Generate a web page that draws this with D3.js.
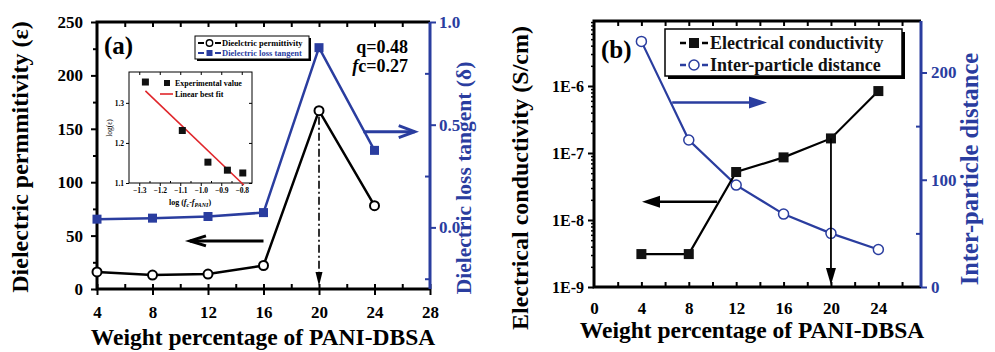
<!DOCTYPE html>
<html>
<head>
<meta charset="utf-8">
<script src="https://cdn.jsdelivr.net/npm/d3@7"></script>
<style>
  body { margin: 0; background: #fff; }
  svg text { font-family: "Liberation Serif", "Times New Roman", serif; font-weight: bold; }
</style>
</head>
<body>
<svg id="chart" width="995" height="352"></svg>
<script>
// ---- panel (a) data ----
const wtA = [4, 8, 12, 16, 20, 24];
const permittivity = [16, 13, 14, 22, 167, 78];
const lossTangent = [0.04, 0.045, 0.053, 0.072, 0.875, 0.375];
const xTicksA = [4, 8, 12, 16, 20, 24, 28];
const yTicksA = [0, 50, 100, 150, 200, 250];
const yTicksA2 = [0.0, 0.5, 1.0];

// inset: log(eps) vs log(fc - fPANI)
const insetX = [-1.27, -1.09, -0.965, -0.87, -0.795];
const insetY = [1.352, 1.231, 1.152, 1.132, 1.125];
const fitX = [-1.27, -0.79];
const fitY = [1.33, 1.095];
const insetTicksX = [-1.3, -1.2, -1.1, -1.0, -0.9, -0.8];
const insetTicksY = [1.1, 1.2, 1.3];

// ---- panel (b) data ----
const wtB = [4, 8, 12, 16, 20, 24];
const conductivity = [3.1e-9, 3.1e-9, 5.2e-8, 8.6e-8, 1.65e-7, 8.4e-7];
const distance = [229, 137, 95, 68, 50, 35];
const xTicksB = [0, 4, 8, 12, 16, 20, 24];
const yTicksB = [1e-9, 1e-8, 1e-7, 1e-6];
const yTicksB2 = [0, 100, 200];

const blue = "#2a3d9f";
const red = "#e0262b";
const svg = d3.select("#chart");

// draw a line with an arrow head at (x2,y2); open = chevron, else filled triangle
function arrow(g, x1, y1, x2, y2, color, width, len, half, open) {
  const ang = Math.atan2(y2 - y1, x2 - x1);
  const bx = x2 - len * Math.cos(ang), by = y2 - len * Math.sin(ang);
  const px = -Math.sin(ang) * half, py = Math.cos(ang) * half;
  g.append("line")
    .attr("x1", x1).attr("y1", y1)
    .attr("x2", open ? x2 : bx).attr("y2", open ? y2 : by)
    .attr("stroke", color).attr("stroke-width", width);
  if (open) {
    g.append("path")
      .attr("d", `M${bx + px},${by + py}L${x2},${y2}L${bx - px},${by - py}`)
      .attr("fill", "none").attr("stroke", color).attr("stroke-width", width);
  } else {
    g.append("path")
      .attr("d", `M${bx + px},${by + py}L${x2},${y2}L${bx - px},${by - py}Z`)
      .attr("fill", color);
  }
}

function styleAxis(g, color, size, width) {
  g.select(".domain").remove();
  g.selectAll("line").attr("stroke", color).attr("stroke-width", width);
  g.selectAll("text").attr("fill", color).style("font-size", size + "px");
}

// ================= panel (a) =================
const xA = d3.scaleLinear().domain([4, 28]).range([97, 430]);
const yA = d3.scaleLinear().domain([0, 250]).range([289, 22]);
const yA2 = d3.scaleLinear().domain([-0.3, 1.0]).range([289, 22]);

const gA = svg.append("g");

// axes
gA.append("g").attr("transform", "translate(0,289)")
  .call(d3.axisBottom(xA).tickValues(xTicksA).tickSize(6).tickPadding(11).tickFormat(d3.format("d")))
  .call(g => styleAxis(g, "#000", 17, 2));
gA.append("g").attr("transform", "translate(0,289)")
  .call(d3.axisBottom(xA).tickValues(d3.range(4, 29, 2)).tickSize(-5).tickFormat(""))
  .call(g => styleAxis(g, "#000", 17, 2));
gA.append("g").attr("transform", "translate(0,22)")
  .call(d3.axisTop(xA).tickValues(d3.range(6, 28, 2)).tickSize(-5).tickFormat(""))
  .call(g => styleAxis(g, "#000", 17, 2));
gA.append("g").attr("transform", "translate(97,0)")
  .call(d3.axisLeft(yA).tickValues(yTicksA).tickSize(6).tickPadding(8))
  .call(g => styleAxis(g, "#000", 17, 2));
gA.append("g").attr("transform", "translate(97,0)")
  .call(d3.axisLeft(yA).tickValues(d3.range(25, 250, 50)).tickSize(4).tickFormat(""))
  .call(g => styleAxis(g, "#000", 17, 2));
gA.append("g").attr("transform", "translate(430,0)")
  .call(d3.axisRight(yA2).tickValues(yTicksA2).tickSize(6).tickPadding(3).tickFormat(d3.format(".1f")))
  .call(g => styleAxis(g, blue, 17, 2));
gA.append("g").attr("transform", "translate(430,0)")
  .call(d3.axisRight(yA2).tickValues([-0.25, 0.25, 0.75]).tickSize(-5).tickFormat(""))
  .call(g => styleAxis(g, blue, 17, 2));

// frame
gA.append("path").attr("d", `M${xA(28)},${yA(250)}H${xA(4)}V${yA(0)}H${xA(28)}`)
  .attr("fill", "none").attr("stroke", "#000").attr("stroke-width", 3);
gA.append("line").attr("x1", xA(28)).attr("x2", xA(28)).attr("y1", yA(250)).attr("y2", yA(0))
  .attr("stroke", blue).attr("stroke-width", 3);

// series lines
gA.append("path").datum(wtA.map((w, i) => [w, lossTangent[i]]))
  .attr("d", d3.line().x(d => xA(d[0])).y(d => yA2(d[1])))
  .attr("fill", "none").attr("stroke", blue).attr("stroke-width", 2.5);
gA.append("path").datum(wtA.map((w, i) => [w, permittivity[i]]))
  .attr("d", d3.line().x(d => xA(d[0])).y(d => yA(d[1])))
  .attr("fill", "none").attr("stroke", "#000").attr("stroke-width", 2.5);

// dash-dot arrow at 20 wt%
gA.append("line")
  .attr("x1", xA(20)).attr("x2", xA(20)).attr("y1", yA(permittivity[4]) + 6).attr("y2", yA(0) - 14)
  .attr("stroke", "#000").attr("stroke-width", 1.6).attr("stroke-dasharray", "8,3,2,3");
arrow(gA, xA(20), yA(0) - 16, xA(20), yA(0) - 3, "#000", 1.6, 14, 3.5, false);

// markers
gA.selectAll(".sqA").data(wtA).join("rect")
  .attr("x", d => xA(d) - 4.5).attr("y", (d, i) => yA2(lossTangent[i]) - 4.5)
  .attr("width", 9).attr("height", 9).attr("fill", blue);
gA.selectAll(".ciA").data(wtA).join("circle")
  .attr("cx", d => xA(d)).attr("cy", (d, i) => yA(permittivity[i])).attr("r", 4.5)
  .attr("fill", "#fff").attr("stroke", "#000").attr("stroke-width", 2);

// direction arrows
arrow(gA, xA(16), yA(45), xA(10.7), yA(45), "#000", 3, 16, 5, true);
arrow(gA, xA(23.2), yA2(0.466), xA(26.9), yA2(0.466), blue, 3, 16, 6, true);

// labels
gA.append("text").attr("x", 104).attr("y", 54).style("font-size", "25px").text("(a)");
gA.append("text").attr("x", 408).attr("y", 53).attr("text-anchor", "end").style("font-size", "18px").text("q=0.48");
gA.append("text").attr("x", 408).attr("y", 72).attr("text-anchor", "end").style("font-size", "18px")
  .call(t => { t.append("tspan").style("font-style", "italic").text("f"); t.append("tspan").text("c=0.27"); });

// legend (a)
gA.append("rect").attr("x", 197).attr("y", 38).attr("width", 114).attr("height", 23).attr("fill", "#000");
gA.append("rect").attr("x", 195).attr("y", 36).attr("width", 114).attr("height", 23)
  .attr("fill", "#fff").attr("stroke", "#000").attr("stroke-width", 1);
[[43, "#000", "Dieelctric permittivity", "c"], [53, blue, "Dielectric loss tangent", "s"]].forEach(([y, c, label, m]) => {
  gA.append("path").attr("d", `M198,${y}H204M215,${y}H221`).attr("stroke", c).attr("stroke-width", 2);
  if (m === "c") gA.append("circle").attr("cx", 209.5).attr("cy", y).attr("r", 3.2)
    .attr("fill", "#fff").attr("stroke", c).attr("stroke-width", 1.4);
  else gA.append("rect").attr("x", 206.5).attr("y", y - 3).attr("width", 6).attr("height", 6).attr("fill", c);
  gA.append("text").attr("x", 222).attr("y", y + 3).attr("fill", c).style("font-size", "8.5px").text(label);
});

// inset
const xI = d3.scaleLinear().domain([-1.35, -0.75]).range([129, 252]);
const yI = d3.scaleLinear().domain([1.1, 1.377]).range([183, 72]);
const gI = gA.append("g");
gI.append("rect").attr("x", 129).attr("y", 72).attr("width", 123).attr("height", 111)
  .attr("fill", "#fff").attr("stroke", "#000").attr("stroke-width", 1);
gI.append("g").attr("transform", "translate(0,183)")
  .call(d3.axisBottom(xI).tickValues(insetTicksX).tickSize(3).tickPadding(2).tickFormat(d3.format(".1f")))
  .call(g => styleAxis(g, "#000", 7.5, 1));
gI.append("g").attr("transform", "translate(0,183)")
  .call(d3.axisBottom(xI).tickValues([-1.25, -1.15, -1.05, -0.95, -0.85]).tickSize(-2).tickFormat(""))
  .call(g => styleAxis(g, "#000", 7.5, 1));
gI.append("g").attr("transform", "translate(0,72)")
  .call(d3.axisTop(xI).tickValues(insetTicksX).tickSize(-3).tickFormat(""))
  .call(g => styleAxis(g, "#000", 7.5, 1));
gI.append("g").attr("transform", "translate(129,0)")
  .call(d3.axisLeft(yI).tickValues(insetTicksY).tickSize(3).tickPadding(2).tickFormat(d3.format(".1f")))
  .call(g => styleAxis(g, "#000", 7.5, 1));
gI.append("g").attr("transform", "translate(252,0)")
  .call(d3.axisRight(yI).tickValues(insetTicksY).tickSize(-3).tickFormat(""))
  .call(g => styleAxis(g, "#000", 7.5, 1));
gI.append("path").datum(fitX.map((v, i) => [v, fitY[i]]))
  .attr("d", d3.line().x(d => xI(d[0])).y(d => yI(d[1])))
  .attr("stroke", red).attr("stroke-width", 1.6);
gI.selectAll(".sqI").data(insetX).join("rect")
  .attr("x", d => xI(d) - 3.5).attr("y", (d, i) => yI(insetY[i]) - 3.5)
  .attr("width", 7).attr("height", 7).attr("fill", "#111");
gI.append("rect").attr("x", 164).attr("y", 80).attr("width", 6).attr("height", 6).attr("fill", "#111");
gI.append("text").attr("x", 175).attr("y", 86).style("font-size", "8px").text("Experimental value");
gI.append("line").attr("x1", 160).attr("x2", 173).attr("y1", 94).attr("y2", 94).attr("stroke", red).attr("stroke-width", 1.6);
gI.append("text").attr("x", 175).attr("y", 97).style("font-size", "8px").text("Linear best fit");
gI.append("text").attr("transform", "translate(112,128) rotate(-90)").attr("text-anchor", "middle")
  .style("font-size", "7.5px").style("font-weight", "normal").text("log(ε)");
gI.append("text").attr("x", 190).attr("y", 205).attr("text-anchor", "middle").style("font-size", "8px")
  .call(t => {
    t.append("tspan").text("log (");
    t.append("tspan").style("font-style", "italic").text("f");
    t.append("tspan").attr("dy", 2).style("font-size", "6px").style("font-style", "italic").text("c");
    t.append("tspan").attr("dy", -2).text("-");
    t.append("tspan").style("font-style", "italic").text("f");
    t.append("tspan").attr("dy", 2).style("font-size", "6px").style("font-style", "italic").text("PANI");
    t.append("tspan").attr("dy", -2).text(")");
  });

// axis titles (a)
gA.append("text").attr("transform", "translate(28,157) rotate(-90)").attr("text-anchor", "middle")
  .style("font-size", "24px").text("Dielectric permmitivity (ε)");
gA.append("text").attr("transform", "translate(471,178) rotate(-90)").attr("text-anchor", "middle")
  .attr("fill", blue).style("font-size", "21.5px").text("Dielectric loss tangent (δ)");
gA.append("text").attr("x", 263).attr("y", 345).attr("text-anchor", "middle")
  .style("font-size", "23.5px").text("Weight percentage of PANI-DBSA");

// ================= panel (b) =================
const xB = d3.scaleLinear().domain([0, 27.6]).range([594, 921]);
const yB = d3.scaleLog().domain([1e-9, Math.pow(10, -5.03)]).range([287, 21]);
const yB2 = d3.scaleLinear().domain([0, 248]).range([287, 21]);

const gB = svg.append("g");

gB.append("g").attr("transform", "translate(0,287)")
  .call(d3.axisBottom(xB).tickValues(xTicksB).tickSize(0).tickPadding(15).tickFormat(d3.format("d")))
  .call(g => styleAxis(g, "#000", 17, 2));
gB.append("g").attr("transform", "translate(0,287)")
  .call(d3.axisBottom(xB).tickValues(d3.range(2, 27, 2)).tickSize(-5).tickFormat(""))
  .call(g => styleAxis(g, "#000", 17, 2));
gB.append("g").attr("transform", "translate(0,21)")
  .call(d3.axisTop(xB).tickValues(d3.range(2, 27, 2)).tickSize(-5).tickFormat(""))
  .call(g => styleAxis(g, "#000", 17, 2));
const minorB = [];
[-9, -8, -7, -6].forEach(e => d3.range(2, 10).forEach(k => minorB.push(k * Math.pow(10, e))));
gB.append("g").attr("transform", "translate(594,0)")
  .call(d3.axisLeft(yB).tickValues(yTicksB).tickSize(6).tickPadding(4)
    .tickFormat(d => "1E" + Math.round(Math.log10(d))))
  .call(g => styleAxis(g, "#000", 16, 2));
gB.append("g").attr("transform", "translate(594,0)")
  .call(d3.axisLeft(yB).tickValues(minorB.filter(v => v < yB.domain()[1])).tickSize(3).tickFormat(""))
  .call(g => styleAxis(g, "#000", 16, 1.5));
gB.append("g").attr("transform", "translate(921,0)")
  .call(d3.axisRight(yB2).tickValues(yTicksB2).tickSize(6).tickPadding(4))
  .call(g => styleAxis(g, blue, 17, 2));
gB.append("g").attr("transform", "translate(921,0)")
  .call(d3.axisRight(yB2).tickValues([50, 150]).tickSize(-5).tickFormat(""))
  .call(g => styleAxis(g, blue, 17, 2));

gB.append("path").attr("d", `M921,21H594V287H921`)
  .attr("fill", "none").attr("stroke", "#000").attr("stroke-width", 3);
gB.append("line").attr("x1", 921).attr("x2", 921).attr("y1", 21).attr("y2", 287)
  .attr("stroke", blue).attr("stroke-width", 3);

gB.append("path").datum(wtB.map((w, i) => [w, distance[i]]))
  .attr("d", d3.line().x(d => xB(d[0])).y(d => yB2(d[1])))
  .attr("fill", "none").attr("stroke", blue).attr("stroke-width", 2.2);
gB.append("path").datum(wtB.map((w, i) => [w, conductivity[i]]))
  .attr("d", d3.line().x(d => xB(d[0])).y(d => yB(d[1])))
  .attr("fill", "none").attr("stroke", "#000").attr("stroke-width", 2.2);

arrow(gB, xB(6.6), yB2(172), xB(14.6), yB2(172), blue, 2.5, 18, 6, false);
arrow(gB, xB(10.4), yB(1.87e-8), xB(4.05), yB(1.87e-8), "#000", 2.5, 18, 6, false);

gB.selectAll(".ciB").data(wtB).join("circle")
  .attr("cx", d => xB(d)).attr("cy", (d, i) => yB2(distance[i])).attr("r", 5)
  .attr("fill", "#fff").attr("stroke", blue).attr("stroke-width", 1.5);
gB.selectAll(".sqB").data(wtB).join("rect")
  .attr("x", d => xB(d) - 5).attr("y", (d, i) => yB(conductivity[i]) - 5)
  .attr("width", 10).attr("height", 10).attr("fill", "#111");

arrow(gB, xB(20), yB(conductivity[4]), xB(20), yB(1e-9) - 2, "#000", 1.8, 17, 5, false);

gB.append("text").attr("x", 601).attr("y", 58).style("font-size", "25px").text("(b)");

// legend (b)
gB.append("rect").attr("x", 668).attr("y", 32).attr("width", 237).attr("height", 47).attr("fill", "#000");
gB.append("rect").attr("x", 665).attr("y", 29).attr("width", 237).attr("height", 47)
  .attr("fill", "#fff").attr("stroke", "#000").attr("stroke-width", 1.5);
[[43, "#000", "Electrical conductivity", "s"], [65, blue, "Inter-particle distance", "c"]].forEach(([y, c, label, m]) => {
  gB.append("path").attr("d", `M680,${y}H686M702,${y}H708`).attr("stroke", c).attr("stroke-width", 2.5);
  if (m === "c") gB.append("circle").attr("cx", 694).attr("cy", y).attr("r", 5)
    .attr("fill", "#fff").attr("stroke", c).attr("stroke-width", 1.5);
  else gB.append("rect").attr("x", 689).attr("y", y - 5).attr("width", 10).attr("height", 10).attr("fill", "#111");
  gB.append("text").attr("x", 710).attr("y", y + 6).attr("fill", "#111").style("font-size", "18px").text(label);
});

gB.append("text").attr("transform", "translate(528,178) rotate(-90)").attr("text-anchor", "middle")
  .style("font-size", "24px").text("Electrical conductivity  (S/cm)");
gB.append("text").attr("transform", "translate(978,169) rotate(-90)").attr("text-anchor", "middle")
  .attr("fill", blue).style("font-size", "24.5px").text("Inter-particle distance");
gB.append("text").attr("x", 752).attr("y", 338).attr("text-anchor", "middle")
  .style("font-size", "23.5px").text("Weight percentage of PANI-DBSA");
</script>
</body>
</html>
